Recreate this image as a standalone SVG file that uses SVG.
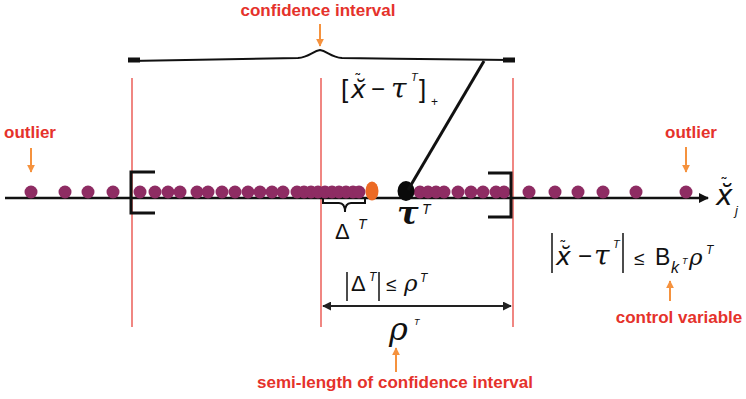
<svg xmlns="http://www.w3.org/2000/svg" width="746" height="399" viewBox="0 0 746 399">
<style>
.lbl{font-family:"Liberation Sans",Arial,sans-serif;font-weight:bold;font-size:17px;fill:#e5322b}
.m{font-family:"Liberation Sans",Arial,sans-serif;fill:#111}
.mi{font-family:"Liberation Sans",Arial,sans-serif;font-style:italic;fill:#111}
.xa{font-family:"DejaVu Sans","Liberation Sans",sans-serif;font-style:oblique;fill:#111}
.ac{font-family:"DejaVu Sans","Liberation Sans",sans-serif;fill:#111}
.g{font-family:"DejaVu Serif","Liberation Serif",serif;font-style:italic;fill:#111}
.red{stroke:#e8463f;stroke-width:1.3;fill:none}
.dot{fill:#8e2c63}
.oarr{stroke:#f5923e;stroke-width:2;fill:none}
.blk{stroke:#111;fill:none}
</style>
<defs>
<marker id="oa" viewBox="0 0 10 10" refX="9" refY="5" markerWidth="8" markerHeight="9" markerUnits="userSpaceOnUse" orient="auto"><path d="M0,0 L10,5 L0,10 z" fill="#f5923e"/></marker>
<marker id="ka" viewBox="0 0 10 10" refX="9" refY="5" markerWidth="11" markerHeight="10" markerUnits="userSpaceOnUse" orient="auto"><path d="M0,0 L10,5 L0,10 z" fill="#111"/></marker>
<marker id="ga" viewBox="0 0 10 10" refX="9" refY="5" markerWidth="9" markerHeight="9" markerUnits="userSpaceOnUse" orient="auto-start-reverse"><path d="M0,0 L10,5 L0,10 z" fill="#222"/></marker>
</defs>
<rect width="746" height="399" fill="#fff"/>

<g id="guides">
<line class="red" x1="132" y1="78" x2="132" y2="327"/>
<line class="red" x1="321" y1="78" x2="321" y2="327"/>
<line class="red" x1="513" y1="78" x2="513" y2="327"/>
</g>

<g id="top-brace">
<path class="blk" stroke-width="2" d="M130,61 C200,60 260,59 298,58 C309,57 313,51 320,50 C327,51 331,57 342,58 C400,59 470,59 512,60"/>
<rect x="128" y="57.5" width="12" height="5" fill="#111"/>
<rect x="503" y="57.5" width="12" height="5" fill="#111"/>
</g>

<g id="axis">
<line class="blk" stroke-width="2.5" x1="5" y1="198" x2="708" y2="198" marker-end="url(#ka)"/>
</g>

<g id="dots">
<circle class="dot" cx="31" cy="192" r="6.5"/><circle class="dot" cx="65" cy="192" r="6.5"/><circle class="dot" cx="88" cy="192" r="6.5"/><circle class="dot" cx="113" cy="192" r="6.5"/>
<circle class="dot" cx="140" cy="192" r="6.5"/><circle class="dot" cx="155" cy="192" r="6.5"/><circle class="dot" cx="168" cy="192" r="6.5"/><circle class="dot" cx="180" cy="192" r="6.5"/>
<circle class="dot" cx="197" cy="192" r="6.5"/><circle class="dot" cx="208" cy="192" r="6.5"/><circle class="dot" cx="222" cy="192" r="6.5"/><circle class="dot" cx="235" cy="192" r="6.5"/>
<circle class="dot" cx="248" cy="192" r="6.5"/><circle class="dot" cx="260" cy="192" r="6.5"/><circle class="dot" cx="272" cy="192" r="6.5"/><circle class="dot" cx="283" cy="192" r="6.5"/>
<circle class="dot" cx="297" cy="192" r="6.5"/><circle class="dot" cx="304" cy="192" r="6.5"/><circle class="dot" cx="311" cy="192" r="6.5"/><circle class="dot" cx="318" cy="192" r="6.5"/>
<circle class="dot" cx="325" cy="192" r="6.5"/><circle class="dot" cx="332" cy="192" r="6.5"/><circle class="dot" cx="339" cy="192" r="6.5"/><circle class="dot" cx="346" cy="192" r="6.5"/>
<circle class="dot" cx="353" cy="192" r="6.5"/><circle class="dot" cx="359" cy="192" r="6.5"/>
<circle class="dot" cx="420" cy="192" r="6.5"/><circle class="dot" cx="428" cy="192" r="6.5"/><circle class="dot" cx="436" cy="192" r="6.5"/><circle class="dot" cx="444" cy="192" r="6.5"/>
<circle class="dot" cx="458" cy="192" r="6.5"/><circle class="dot" cx="471" cy="192" r="6.5"/><circle class="dot" cx="483" cy="192" r="6.5"/><circle class="dot" cx="496" cy="192" r="6.5"/><circle class="dot" cx="504" cy="192" r="6.5"/>
<circle class="dot" cx="529" cy="192" r="6.5"/><circle class="dot" cx="555" cy="192" r="6.5"/><circle class="dot" cx="578" cy="192" r="6.5"/><circle class="dot" cx="603" cy="192" r="6.5"/><circle class="dot" cx="636" cy="192" r="6.5"/><circle class="dot" cx="686" cy="192" r="6.5"/>
</g>

<g id="brackets">
<path class="blk" stroke-width="3" d="M155,172 L131,172 L131,213 L155,213"/>
<path class="blk" stroke-width="3" d="M488,173 L511,173 L511,217 L488,217"/>
</g>

<g id="delta-brace">
<path class="blk" stroke-width="2" d="M323,199 L323,203 L339,203 Q345,203 345,212 Q345,203 351,203 L365,203 L365,199"/>
</g>

<g id="orange-point"><ellipse cx="372" cy="191" rx="6.5" ry="9.5" fill="#ec6a24"/></g>

<g id="tau-point"><ellipse cx="406" cy="191" rx="8.5" ry="10" fill="#0a0a0a"/></g>

<g id="connectors">
<line class="blk" stroke-width="3" x1="484" y1="61" x2="408" y2="190"/>
<line class="oarr" x1="320" y1="24" x2="320" y2="46" marker-end="url(#oa)"/>
<line class="oarr" x1="31" y1="148" x2="31" y2="172" marker-end="url(#oa)"/>
<line class="oarr" x1="686" y1="147" x2="686" y2="172" marker-end="url(#oa)"/>
<line class="oarr" x1="670" y1="301" x2="670" y2="281" marker-end="url(#oa)"/>
<line class="oarr" x1="396" y1="372" x2="396" y2="348" marker-end="url(#oa)"/>
<line stroke="#222" stroke-width="2" x1="323" y1="306" x2="511" y2="306" marker-start="url(#ga)" marker-end="url(#ga)"/>
</g>

<g id="labels">
<text class="lbl" x="318" y="16" text-anchor="middle">confidence interval</text>
<text class="lbl" x="4" y="138">outlier</text>
<text class="lbl" x="665" y="138">outlier</text>
<text class="lbl" x="679" y="323" text-anchor="middle">control variable</text>
<text class="lbl" x="395" y="388" text-anchor="middle">semi-length of confidence interval</text>
</g>

<g id="plus-label">
<text class="m" x="341" y="98" font-size="26">[</text>
<text class="xa" x="351" y="98" font-size="25">x̆</text>
<text class="ac" x="354" y="85" font-size="15">˜</text>
<text class="m" x="371" y="97" font-size="24">−</text>
<text class="g" x="391" y="98" font-size="28">τ</text>
<text class="mi" x="411" y="81" font-size="11">T</text>
<text class="m" x="419" y="98" font-size="26">]</text>
<text class="m" x="431" y="106" font-size="12">+</text>
</g>

<g id="axis-label">
<text class="xa" x="716" y="205" font-size="28">x̆</text>
<text class="ac" x="720" y="189" font-size="16">˜</text>
<text class="mi" x="735" y="215" font-size="13">j</text>
</g>

<g id="delta-label">
<text class="m" x="335" y="239" font-size="22">Δ</text>
<text class="mi" x="358" y="229" font-size="14">T</text>
</g>

<g id="tau-label">
<text class="g" x="397" y="224" font-size="32" font-weight="bold">τ</text>
<text class="mi" x="422" y="214" font-size="14">T</text>
</g>

<g id="delta-bound">
<line class="blk" stroke-width="1.5" x1="347" y1="272" x2="347" y2="301"/>
<text class="m" x="351" y="291" font-size="22">Δ</text>
<text class="mi" x="369" y="281" font-size="12">T</text>
<line class="blk" stroke-width="1.5" x1="379" y1="272" x2="379" y2="301"/>
<text class="m" x="386" y="291" font-size="19">≤</text>
<text class="g" x="404" y="291" font-size="23">ρ</text>
<text class="mi" x="420" y="282" font-size="12">T</text>
</g>

<g id="rho-label">
<text class="g" x="389" y="340" font-size="32">ρ</text>
<text class="mi" x="414" y="325" font-size="9">T</text>
</g>

<g id="control-formula">
<line class="blk" stroke-width="1.5" x1="552" y1="233" x2="552" y2="273"/>
<text class="xa" x="556" y="265" font-size="25">x̆</text>
<text class="ac" x="559" y="252" font-size="15">˜</text>
<text class="m" x="578" y="264" font-size="24">−</text>
<text class="g" x="594" y="265" font-size="28">τ</text>
<text class="mi" x="613" y="248" font-size="11">T</text>
<line class="blk" stroke-width="1.5" x1="623" y1="233" x2="623" y2="273"/>
<text class="m" x="634" y="265" font-size="19">≤</text>
<text class="m" x="655" y="265" font-size="23">B</text>
<text class="mi" x="671" y="273" font-size="16">k</text>
<text class="mi" x="682" y="264" font-size="9">T</text>
<text class="g" x="689" y="265" font-size="23">ρ</text>
<text class="mi" x="706" y="254" font-size="12">T</text>
</g>
</svg>
